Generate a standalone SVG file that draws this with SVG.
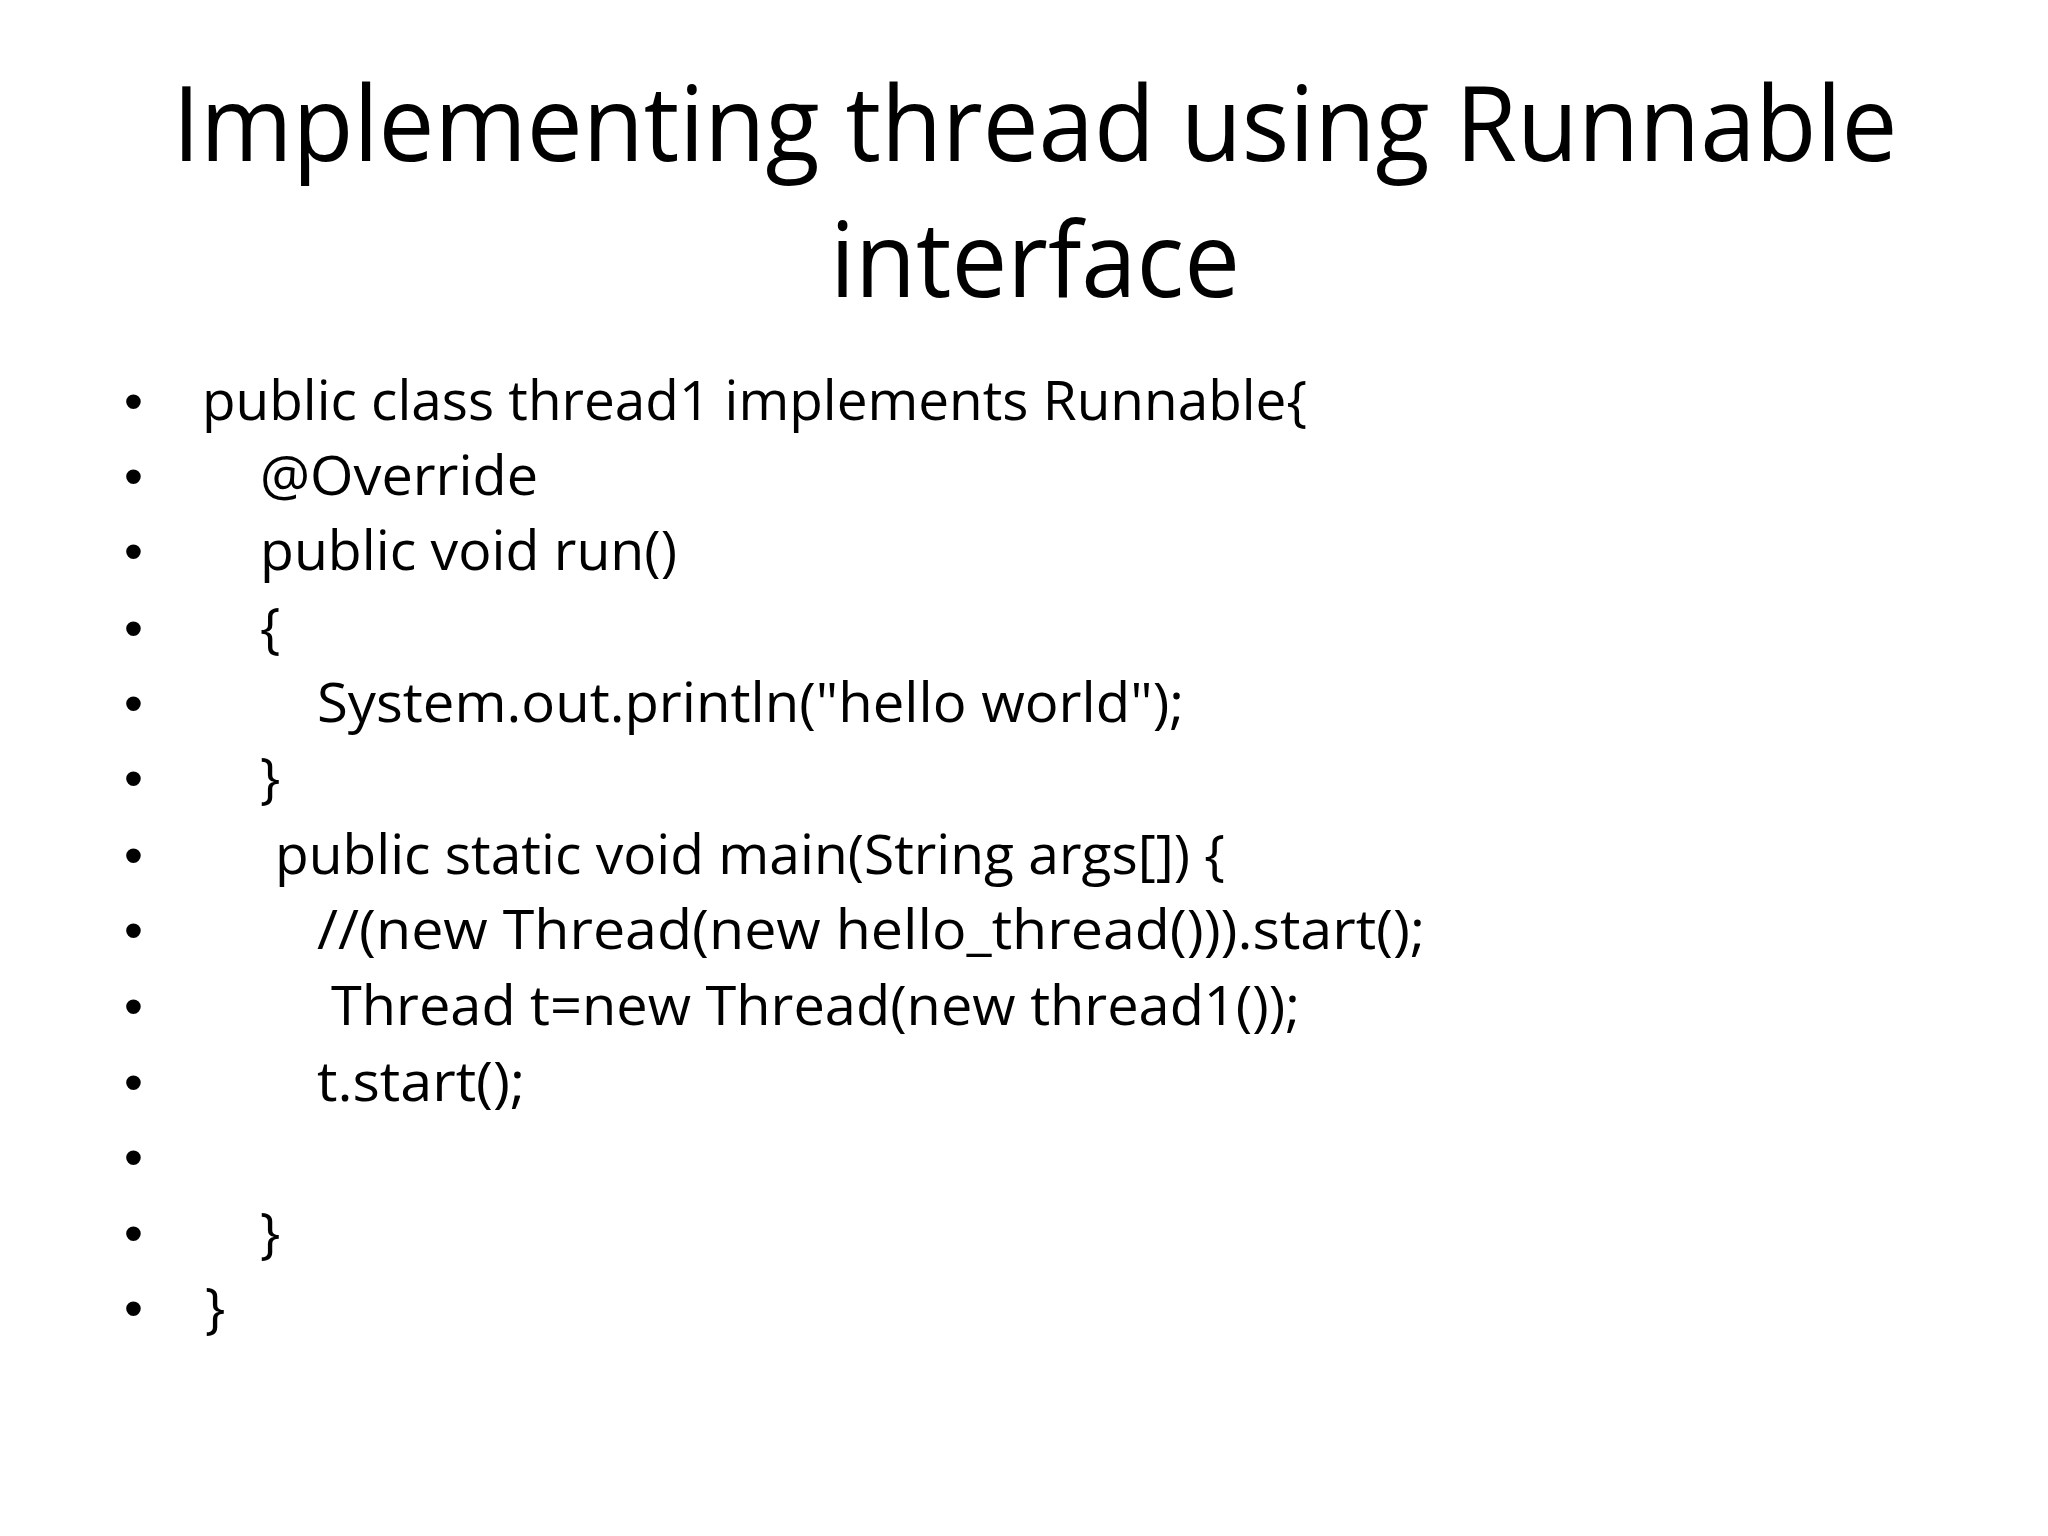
<svg xmlns="http://www.w3.org/2000/svg" width="2048" height="1536" viewBox="0 0 2048 1536">
<style>
.t{font-family:"Open Sans","Liberation Sans",sans-serif;font-size:104px;fill:#000;text-anchor:middle}
.b{font-family:"Open Sans","Liberation Sans",sans-serif;font-size:54px;fill:#000}
.d{font-family:"Liberation Sans",sans-serif;font-size:54px;fill:#000}
</style>
<rect width="2048" height="1536" fill="#fff"/>
<g id="title">
<text class="t" x="1035" y="161" textLength="1725" lengthAdjust="spacingAndGlyphs">Implementing thread using Runnable</text>
<text class="t" x="1035" y="297" textLength="410" lengthAdjust="spacingAndGlyphs">interface</text>
</g>
<g id="bullets">
<text class="d" x="124" y="420">•</text><text class="d" x="124" y="495">•</text><text class="d" x="124" y="570">•</text><text class="d" x="124" y="647">•</text><text class="d" x="124" y="722">•</text><text class="d" x="124" y="797">•</text><text class="d" x="124" y="874">•</text><text class="d" x="124" y="949">•</text><text class="d" x="124" y="1025">•</text><text class="d" x="124" y="1101">•</text><text class="d" x="124" y="1176">•</text><text class="d" x="124" y="1252">•</text><text class="d" x="124" y="1327">•</text>
</g>
<g id="code">
<text class="b" x="202" y="420" textLength="1105" lengthAdjust="spacingAndGlyphs">public class thread1 implements Runnable{</text>
<text class="b" x="260" y="495" textLength="278" lengthAdjust="spacingAndGlyphs">@Override</text>
<text class="b" x="260" y="570" textLength="417" lengthAdjust="spacingAndGlyphs">public void run()</text>
<text class="b" x="260" y="647">{</text>
<text class="b" x="317" y="722" textLength="867" lengthAdjust="spacingAndGlyphs">System.out.println("hello world");</text>
<text class="b" x="260" y="797">}</text>
<text class="b" x="275" y="874" textLength="950" lengthAdjust="spacingAndGlyphs">public static void main(String args[]) {</text>
<text class="b" x="317" y="949" textLength="1108" lengthAdjust="spacingAndGlyphs">//(new Thread(new hello_thread())).start();</text>
<text class="b" x="331" y="1025" textLength="969" lengthAdjust="spacingAndGlyphs">Thread t=new Thread(new thread1());</text>
<text class="b" x="317" y="1101" textLength="208" lengthAdjust="spacingAndGlyphs">t.start();</text>
<text class="b" x="260" y="1252">}</text>
<text class="b" x="205" y="1327">}</text>
</g>
</svg>
